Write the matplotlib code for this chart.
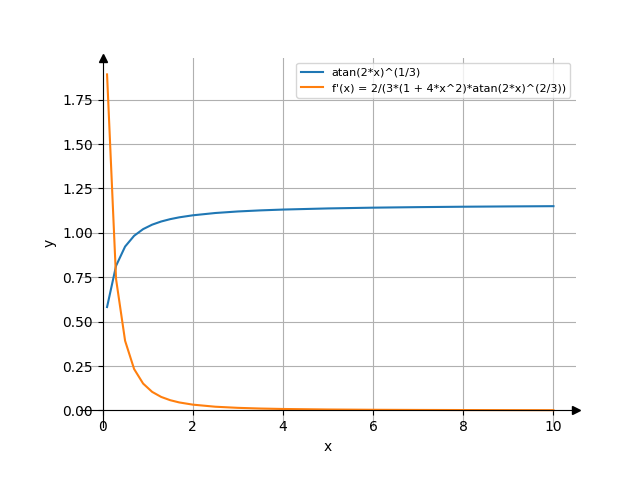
import matplotlib
matplotlib.use("Agg")
import matplotlib.pyplot as plt

x = [0.1, 0.3, 0.5, 0.7, 0.9, 1.1, 1.3, 1.5, 1.7, 2.0, 2.5, 3.0, 3.5, 4.0, 5.0, 6.0, 7.0, 8.0, 9.0, 10.0]
f = [0.582, 0.8144, 0.9226, 0.9832, 1.0208, 1.0459, 1.0637, 1.0769, 1.0871, 1.0985, 1.1115, 1.1202, 1.1263, 1.1309, 1.1373, 1.1416, 1.1446, 1.1469, 1.1486, 1.1500]
df = [1.892, 0.739, 0.392, 0.233, 0.151, 0.1043, 0.0759, 0.0575, 0.0449, 0.0325, 0.0207, 0.0144, 0.0105, 0.0080, 0.0051, 0.0035, 0.0026, 0.0020, 0.0016, 0.0013]
labels = ["atan(2*x)^(1/3)", "f'(x) = 2/(3*(1 + 4*x^2)*atan(2*x)^(2/3))"]

fig, ax = plt.subplots(figsize=(6.4, 4.8), dpi=100)
ax.plot(x, f, label=labels[0])
ax.plot(x, df, label=labels[1])
ax.spines['left'].set_position('zero')
ax.spines['bottom'].set_position('zero')
ax.spines['right'].set_visible(False)
ax.spines['top'].set_visible(False)
ax.plot(1, 0, ">k", transform=ax.get_yaxis_transform(), clip_on=False)
ax.plot(0, 1, "^k", transform=ax.get_xaxis_transform(), clip_on=False)
ax.set_xlabel("x")
ax.set_ylabel("y")
ax.grid(True)
ax.legend(loc="upper right", fontsize=8)
fig.savefig("out.png")
